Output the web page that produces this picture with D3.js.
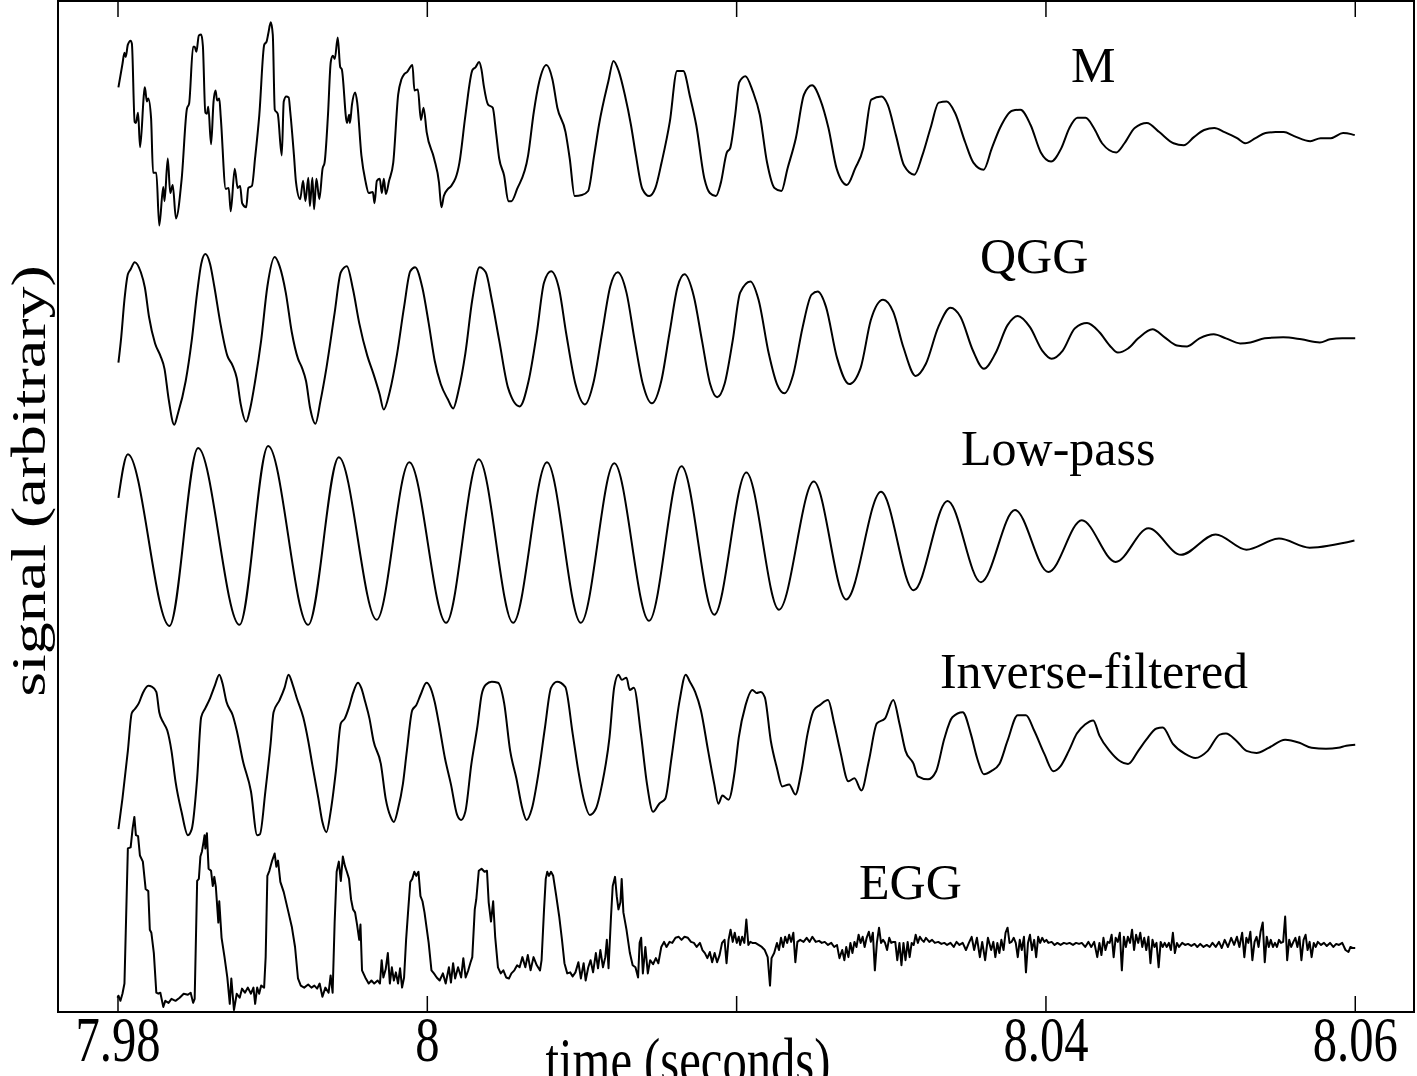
<!DOCTYPE html>
<html>
<head>
<meta charset="utf-8">
<script src="https://cdn.jsdelivr.net/npm/d3@7"></script>
<style>
	html, body { margin: 0; padding: 0; background: #fff; }
	svg { display: block; }
	text { font-family: "Liberation Serif", "Times New Roman", serif; fill: #000; }
</style>
</head>
<body>
<svg id="chart" width="1417" height="1076"></svg>
<script>
// time is in ms after 7.98 s, signal is arbitrary units around each trace's rest level
var mSignal = [[0.06,0.47],[0.32,0.70],[0.45,0.81],[0.53,0.77],[0.67,0.89],[0.85,0.93],[0.93,0.90],[1.11,0.13],[1.19,0.12],[1.33,0.22],[1.46,-0.12],[1.72,0.42],[1.77,0.47],[1.90,0.33],[1.99,0.36],[2.17,0.17],[2.30,-0.37],[2.51,-0.37],[2.70,-0.89],[2.96,-0.51],[3.04,-0.65],[3.25,-0.23],[3.41,-0.57],[3.57,-0.49],[3.78,-0.82],[4.15,-0.43],[4.49,0.26],[4.63,0.31],[4.89,0.87],[4.99,0.87],[5.10,0.82],[5.26,0.98],[5.41,0.99],[5.52,0.88],[5.68,0.22],[5.78,0.21],[5.87,0.28],[6.05,-0.09],[6.21,0.33],[6.34,0.44],[6.44,0.34],[6.58,0.36],[6.68,0.17],[7.00,-0.53],[7.19,-0.52],[7.32,-0.75],[7.58,-0.33],[7.77,-0.52],[7.93,-0.50],[8.06,-0.67],[8.32,-0.71],[8.46,-0.52],[8.69,-0.50],[8.90,-0.22],[9.17,0.20],[9.49,0.89],[9.64,0.92],[9.75,1.00],[9.91,1.11],[10.04,0.99],[10.17,0.25],[10.36,0.21],[10.62,-0.20],[10.75,0.33],[10.91,0.38],[11.07,0.37],[11.17,0.23],[11.41,-0.20],[11.54,-0.46],[11.81,-0.63],[12.00,-0.45],[12.15,-0.65],[12.34,-0.42],[12.44,-0.70],[12.60,-0.42],[12.71,-0.73],[12.86,-0.43],[13.05,-0.63],[13.26,-0.33],[13.39,-0.27],[13.61,0.20],[13.79,0.72],[13.92,0.78],[14.05,0.75],[14.24,0.96],[14.40,0.67],[14.50,0.65],[14.84,0.12],[14.98,0.20],[15.03,0.12],[15.16,0.30],[15.37,0.42],[15.50,0.32],[15.77,-0.20],[16.03,-0.45],[16.25,-0.57],[16.51,-0.56],[16.62,-0.67],[16.77,-0.45],[16.96,-0.43],[17.09,-0.57],[17.22,-0.43],[17.35,-0.58],[17.56,-0.45],[17.83,-0.27],[18.15,0.40],[18.36,0.55],[18.54,0.60],[18.72,0.62],[19.07,0.69],[19.20,0.44],[19.42,0.45],[19.62,0.15],[19.79,0.27],[19.99,0.03],[20.47,-0.23],[20.79,-0.47],[20.94,-0.71],[21.10,-0.60],[21.37,-0.53],[21.58,-0.50],[22.11,-0.27],[22.50,0.20],[22.95,0.64],[23.16,0.67],[23.38,0.72],[23.53,0.65],[23.69,0.48],[23.96,0.30],[24.26,0.27],[24.48,0.02],[24.68,-0.23],[25.00,-0.40],[25.27,-0.65],[25.47,-0.65],[25.84,-0.53],[26.55,-0.20],[26.92,0.23],[27.26,0.52],[27.73,0.69],[28.12,0.55],[28.44,0.27],[28.97,0.03],[29.24,-0.23],[29.56,-0.60],[30.03,-0.59],[30.43,-0.55],[30.82,-0.20],[31.13,0.10],[31.74,0.53],[32.07,0.73],[32.41,0.63],[32.80,0.40],[33.20,0.10],[33.52,-0.20],[33.94,-0.53],[34.38,-0.60],[34.78,-0.52],[35.18,-0.27],[35.71,0.13],[36.18,0.63],[36.58,0.63],[37.03,0.37],[37.42,0.10],[37.95,-0.43],[38.30,-0.57],[38.69,-0.60],[39.01,-0.47],[39.40,-0.17],[39.61,-0.13],[39.94,0.20],[40.20,0.52],[40.60,0.58],[41.08,0.43],[41.53,0.20],[42.00,-0.27],[42.48,-0.52],[42.93,-0.55],[43.32,-0.33],[43.86,-0.03],[44.39,0.40],[44.91,0.49],[45.44,0.35],[45.97,0.07],[46.50,-0.33],[47.16,-0.49],[47.69,-0.33],[48.22,-0.13],[48.74,0.35],[49.40,0.38],[49.80,0.30],[50.33,0.00],[50.86,-0.30],[51.52,-0.39],[52.04,-0.20],[52.57,0.07],[53.10,0.32],[53.62,0.33],[54.15,0.22],[54.81,-0.07],[55.34,-0.27],[56.00,-0.34],[56.53,-0.13],[57.06,0.07],[57.85,0.24],[58.38,0.25],[59.04,0.10],[59.70,-0.17],[60.36,-0.26],[61.02,-0.13],[61.55,0.07],[62.07,0.17],[62.60,0.17],[63.13,0.07],[63.66,-0.08],[64.58,-0.17],[65.11,-0.08],[65.77,0.07],[66.56,0.12],[67.36,0.03],[68.28,-0.08],[68.94,-0.10],[69.60,-0.02],[70.26,0.05],[70.92,0.07],[71.58,0.03],[72.39,-0.03],[72.91,-0.08],[73.58,-0.03],[74.23,0.02],[74.88,0.03],[75.41,0.03],[76.08,-0.01],[77.13,-0.06],[77.79,-0.03],[78.45,-0.03],[79.24,0.02],[79.77,0.01],[80.00,0.00]];

var qggSignal = [[0.06,-0.24],[0.24,0.01],[0.45,0.38],[0.67,0.63],[0.85,0.68],[1.11,0.75],[1.51,0.65],[1.77,0.50],[2.04,0.21],[2.43,-0.05],[2.77,-0.17],[3.04,-0.30],[3.30,-0.59],[3.67,-0.85],[3.89,-0.75],[4.41,-0.42],[4.80,-0.02],[5.15,0.45],[5.41,0.73],[5.68,0.83],[5.99,0.73],[6.26,0.51],[6.65,0.15],[7.10,-0.17],[7.45,-0.27],[7.71,-0.39],[7.97,-0.65],[8.32,-0.82],[8.58,-0.69],[8.90,-0.42],[9.29,-0.02],[9.69,0.51],[10.16,0.80],[10.48,0.71],[10.88,0.45],[11.27,0.06],[11.67,-0.20],[11.93,-0.29],[12.19,-0.42],[12.46,-0.69],[12.80,-0.84],[13.12,-0.62],[13.51,-0.29],[14.04,0.25],[14.44,0.65],[14.83,0.71],[15.23,0.48],[15.63,0.15],[16.15,-0.17],[16.55,-0.35],[16.95,-0.55],[17.21,-0.70],[17.61,-0.52],[18.08,-0.15],[18.53,0.31],[18.93,0.66],[19.24,0.70],[19.71,0.50],[20.12,0.15],[20.51,-0.22],[20.90,-0.45],[21.36,-0.60],[21.70,-0.69],[22.04,-0.52],[22.49,-0.15],[22.94,0.38],[23.41,0.70],[23.81,0.65],[24.20,0.38],[24.68,-0.02],[25.26,-0.49],[26.00,-0.67],[26.58,-0.42],[27.11,0.05],[27.58,0.55],[28.03,0.66],[28.56,0.48],[29.01,0.05],[29.61,-0.45],[30.22,-0.65],[30.80,-0.42],[31.33,0.05],[31.86,0.51],[32.34,0.65],[32.91,0.45],[33.44,-0.02],[33.97,-0.45],[34.55,-0.64],[35.16,-0.42],[35.69,0.05],[36.22,0.51],[36.66,0.63],[37.27,0.41],[37.79,-0.02],[38.32,-0.45],[38.77,-0.58],[39.25,-0.45],[39.78,-0.02],[40.26,0.45],[40.92,0.56],[41.45,0.38],[42.11,-0.15],[42.64,-0.45],[43.12,-0.54],[43.70,-0.35],[44.30,0.11],[44.88,0.43],[45.28,0.46],[45.81,0.31],[46.52,-0.19],[47.31,-0.45],[48.05,-0.29],[48.71,0.18],[49.50,0.38],[50.16,0.26],[50.82,-0.09],[51.61,-0.37],[52.27,-0.25],[53.07,0.11],[53.86,0.30],[54.51,0.21],[55.31,-0.12],[56.02,-0.30],[56.76,-0.15],[57.55,0.13],[58.21,0.22],[59.00,0.11],[59.79,-0.12],[60.40,-0.20],[61.12,-0.12],[61.91,0.10],[62.69,0.15],[63.49,0.06],[64.15,-0.07],[64.68,-0.14],[65.34,-0.10],[66.00,0.00],[66.92,0.09],[67.71,0.01],[68.50,-0.07],[69.16,-0.08],[69.96,0.00],[70.88,0.04],[71.67,0.00],[72.59,-0.05],[73.25,-0.04],[74.18,0.00],[75.37,0.01],[76.55,-0.01],[77.74,-0.04],[78.40,-0.01],[79.19,0.00],[80.03,0.00]];

var lowpassSignal = [[0.06,0.43],[0.67,0.86],[3.36,-0.83],[5.21,0.92],[7.89,-0.82],[9.74,0.94],[12.33,-0.82],[14.31,0.83],[16.76,-0.77],[18.87,0.78],[21.25,-0.80],[23.36,0.81],[25.58,-0.80],[27.77,0.78],[29.96,-0.80],[32.12,0.77],[34.37,-0.78],[36.47,0.74],[38.59,-0.72],[40.66,0.68],[42.77,-0.67],[45.02,0.59],[47.12,-0.57],[49.37,0.49],[51.48,-0.48],[53.67,0.40],[55.83,-0.40],[58.03,0.31],[60.19,-0.30],[62.35,0.21],[64.54,-0.20],[66.66,0.13],[68.77,-0.13],[71.01,0.07],[72.99,-0.08],[75.10,0.03],[77.08,-0.06],[79.98,0.01]];

var inverseSignal = [[0.06,-0.83],[0.32,-0.53],[0.67,-0.06],[0.92,0.31],[1.11,0.35],[1.38,0.41],[1.64,0.51],[1.99,0.58],[2.24,0.57],[2.51,0.52],[2.70,0.32],[2.96,0.22],[3.22,0.14],[3.49,-0.06],[3.75,-0.36],[4.14,-0.66],[4.55,-0.89],[4.80,-0.83],[5.15,-0.33],[5.41,0.27],[5.68,0.36],[5.99,0.46],[6.31,0.59],[6.58,0.69],[6.78,0.61],[7.05,0.42],[7.45,0.29],[7.71,0.14],[8.11,-0.16],[8.63,-0.46],[9.03,-0.89],[9.21,-0.88],[9.56,-0.46],[9.90,0.01],[10.09,0.32],[10.48,0.44],[10.80,0.56],[11.06,0.69],[11.33,0.59],[11.59,0.46],[12.01,0.27],[12.33,0.04],[12.59,-0.19],[12.99,-0.53],[13.25,-0.76],[13.51,-0.86],[13.78,-0.66],[14.12,-0.26],[14.44,0.21],[14.70,0.26],[14.97,0.37],[15.23,0.51],[15.55,0.61],[15.76,0.56],[16.02,0.42],[16.29,0.26],[16.55,0.04],[17.03,-0.19],[17.34,-0.53],[17.66,-0.71],[17.87,-0.76],[18.14,-0.63],[18.45,-0.39],[18.71,-0.06],[19.06,0.34],[19.32,0.39],[19.59,0.49],[19.98,0.61],[20.24,0.56],[20.51,0.42],[20.78,0.21],[21.17,-0.13],[21.56,-0.39],[21.96,-0.69],[22.22,-0.74],[22.49,-0.66],[22.88,-0.19],[23.28,0.19],[23.54,0.49],[23.81,0.59],[24.20,0.62],[24.60,0.61],[25.00,0.41],[25.39,-0.06],[25.79,-0.33],[26.18,-0.63],[26.45,-0.74],[26.79,-0.63],[27.24,-0.26],[27.64,0.17],[28.03,0.56],[28.42,0.62],[28.95,0.57],[29.43,0.11],[29.80,-0.26],[30.14,-0.53],[30.54,-0.69],[30.93,-0.63],[31.33,-0.39],[31.81,0.07],[32.12,0.57],[32.39,0.69],[32.60,0.64],[32.91,0.66],[33.12,0.54],[33.39,0.56],[33.84,0.11],[34.24,-0.39],[34.63,-0.66],[35.03,-0.58],[35.42,-0.53],[35.82,-0.13],[36.35,0.44],[36.74,0.69],[37.01,0.62],[37.35,0.52],[37.72,0.34],[38.19,-0.06],[38.59,-0.39],[38.85,-0.58],[39.11,-0.50],[39.51,-0.54],[39.91,-0.26],[40.17,0.07],[40.61,0.39],[41.05,0.54],[41.32,0.51],[41.58,0.52],[41.85,0.47],[42.24,0.04],[42.64,-0.23],[42.98,-0.41],[43.43,-0.39],[43.83,-0.49],[44.22,-0.26],[44.62,0.11],[45.02,0.34],[45.41,0.39],[45.94,0.44],[46.34,0.21],[46.73,-0.06],[47.26,-0.36],[47.65,-0.33],[48.10,-0.45],[48.58,-0.16],[49.10,0.21],[49.63,0.26],[50.16,0.44],[50.56,0.21],[50.95,-0.06],[51.48,-0.19],[51.75,-0.31],[52.41,-0.34],[52.93,-0.26],[53.46,0.06],[53.98,0.27],[54.65,0.32],[55.17,0.11],[55.58,-0.13],[56.02,-0.29],[56.49,-0.26],[57.02,-0.19],[57.55,0.04],[58.21,0.29],[58.74,0.29],[59.27,0.14],[59.93,-0.09],[60.51,-0.26],[60.98,-0.21],[61.51,-0.06],[62.03,0.11],[62.56,0.20],[63.09,0.24],[63.49,0.09],[64.15,-0.06],[64.81,-0.16],[65.34,-0.19],[66.00,-0.06],[66.52,0.05],[67.18,0.16],[67.58,0.17],[68.24,0.01],[69.03,-0.09],[69.69,-0.13],[70.49,-0.06],[71.27,0.10],[71.67,0.11],[72.34,0.04],[73.00,-0.06],[73.65,-0.08],[74.43,-0.03],[75.50,0.05],[76.42,0.02],[77.21,-0.03],[78.14,-0.04],[78.93,-0.03],[79.45,-0.01],[80.03,0.00]];

var eggSignal = [[0.00,-0.49],[0.06,-0.47],[0.19,-0.52],[0.32,-0.45],[0.45,-0.35],[0.67,0.98],[0.85,0.99],[0.98,1.18],[1.09,1.29],[1.19,1.11],[1.33,1.10],[1.45,0.91],[1.64,0.85],[1.82,0.58],[1.99,0.56],[2.09,0.18],[2.19,0.15],[2.35,-0.05],[2.51,-0.44],[2.64,-0.45],[2.77,-0.44],[2.96,-0.58],[3.09,-0.52],[3.30,-0.54],[3.49,-0.50],[3.75,-0.52],[4.02,-0.49],[4.28,-0.45],[4.55,-0.46],[4.73,-0.44],[4.89,-0.54],[4.99,-0.50],[5.15,0.66],[5.26,0.68],[5.36,0.90],[5.46,0.95],[5.57,1.05],[5.63,1.11],[5.68,0.98],[5.78,1.13],[5.89,0.78],[6.05,0.76],[6.16,0.61],[6.26,0.70],[6.36,0.60],[6.52,0.25],[6.58,0.46],[6.73,0.10],[6.92,-0.09],[7.10,-0.29],[7.26,-0.55],[7.36,-0.30],[7.53,-0.61],[7.71,-0.45],[7.90,-0.49],[8.05,-0.40],[8.24,-0.44],[8.43,-0.39],[8.63,-0.45],[8.79,-0.39],[8.90,-0.55],[9.03,-0.39],[9.16,-0.45],[9.29,-0.37],[9.48,-0.39],[9.58,-0.09],[9.69,0.71],[9.82,0.76],[10.00,0.86],[10.16,0.93],[10.27,0.80],[10.38,0.86],[10.53,0.65],[10.75,0.55],[11.01,0.38],[11.27,0.21],[11.48,0.01],[11.67,-0.30],[11.85,-0.37],[12.07,-0.39],[12.33,-0.36],[12.54,-0.39],[12.73,-0.37],[12.91,-0.40],[13.07,-0.35],[13.25,-0.48],[13.44,-0.39],[13.65,-0.44],[13.78,-0.27],[13.91,-0.44],[14.04,0.25],[14.17,0.75],[14.31,0.85],[14.44,0.66],[14.57,0.90],[14.70,0.81],[14.83,0.75],[14.97,0.68],[15.10,0.48],[15.23,0.38],[15.36,0.35],[15.49,0.23],[15.63,0.08],[15.71,0.23],[15.81,-0.22],[16.02,-0.29],[16.24,-0.35],[16.42,-0.32],[16.60,-0.35],[16.82,-0.32],[16.97,-0.35],[17.08,-0.12],[17.19,-0.29],[17.34,-0.21],[17.48,-0.05],[17.61,-0.35],[17.74,-0.19],[17.87,-0.32],[18.00,-0.24],[18.14,-0.35],[18.27,-0.20],[18.40,-0.39],[18.53,-0.29],[18.66,0.08],[18.80,0.38],[18.93,0.65],[19.06,0.68],[19.19,0.75],[19.32,0.71],[19.46,0.75],[19.59,0.51],[19.72,0.46],[19.85,0.35],[20.12,0.05],[20.30,-0.22],[20.46,-0.25],[20.64,-0.29],[20.83,-0.32],[21.04,-0.25],[21.22,-0.35],[21.43,-0.19],[21.56,-0.34],[21.70,-0.15],[21.83,-0.30],[22.02,-0.19],[22.22,-0.29],[22.36,-0.10],[22.51,-0.29],[22.68,-0.22],[22.83,-0.14],[22.94,-0.09],[23.10,0.38],[23.20,0.48],[23.36,0.76],[23.54,0.78],[23.73,0.75],[23.89,0.76],[24.00,0.45],[24.15,0.26],[24.29,0.46],[24.42,0.11],[24.60,-0.19],[24.78,-0.25],[24.95,-0.22],[25.13,-0.29],[25.31,-0.30],[25.47,-0.25],[25.66,-0.22],[25.84,-0.17],[26.00,-0.19],[26.18,-0.09],[26.37,-0.19],[26.53,-0.07],[26.71,-0.22],[26.90,-0.09],[27.11,-0.17],[27.32,-0.22],[27.42,-0.12],[27.58,0.38],[27.69,0.68],[27.79,0.75],[27.90,0.71],[28.03,0.75],[28.17,0.71],[28.37,0.51],[28.56,0.31],[28.74,0.08],[28.90,-0.15],[29.08,-0.25],[29.27,-0.24],[29.43,-0.28],[29.61,-0.24],[29.80,-0.14],[29.96,-0.30],[30.14,-0.15],[30.27,-0.32],[30.44,-0.19],[30.59,-0.12],[30.75,-0.24],[30.93,-0.05],[31.07,-0.20],[31.22,-0.02],[31.39,-0.19],[31.54,-0.09],[31.64,0.08],[31.75,-0.20],[31.91,0.31],[32.02,0.61],[32.17,0.70],[32.28,0.51],[32.39,0.38],[32.52,0.45],[32.60,0.68],[32.71,0.35],[32.91,0.18],[33.13,-0.05],[33.31,-0.17],[33.49,-0.19],[33.66,-0.29],[33.76,0.05],[33.86,0.10],[33.97,-0.25],[34.13,0.01],[34.29,-0.25],[34.44,-0.12],[34.63,-0.16],[34.81,-0.10],[34.97,-0.15],[35.16,0.01],[35.34,0.06],[35.50,0.01],[35.69,0.06],[35.87,0.05],[36.08,0.10],[36.29,0.11],[36.47,0.08],[36.66,0.11],[36.88,0.10],[37.08,0.06],[37.27,0.05],[37.45,0.01],[37.66,0.05],[37.82,-0.02],[37.98,-0.05],[38.14,-0.10],[38.30,-0.04],[38.45,-0.14],[38.61,-0.05],[38.77,-0.14],[38.93,-0.07],[39.09,0.05],[39.25,0.08],[39.38,-0.15],[39.51,0.08],[39.64,0.18],[39.78,0.06],[39.91,0.15],[40.04,0.05],[40.17,0.11],[40.26,0.03],[40.39,0.11],[40.53,0.05],[40.66,0.28],[40.79,0.03],[40.92,0.06],[41.05,0.05],[41.24,0.05],[41.45,0.03],[41.66,0.01],[41.85,-0.02],[42.04,-0.09],[42.19,-0.37],[42.29,-0.10],[42.46,-0.05],[42.64,0.05],[42.77,-0.02],[42.90,0.10],[43.04,0.01],[43.17,0.11],[43.30,0.05],[43.43,0.13],[43.56,0.06],[43.70,0.15],[43.83,-0.14],[43.96,0.06],[44.14,0.08],[44.36,0.06],[44.56,0.10],[44.75,0.06],[44.93,0.11],[45.15,0.06],[45.36,0.07],[45.54,0.05],[45.73,0.06],[45.94,0.03],[46.15,0.05],[46.34,0.01],[46.52,0.03],[46.68,-0.10],[46.86,-0.02],[47.00,-0.12],[47.12,0.01],[47.26,-0.09],[47.39,0.05],[47.52,-0.05],[47.65,0.06],[47.78,0.01],[47.92,0.13],[48.05,0.05],[48.18,0.11],[48.31,0.01],[48.44,0.10],[48.58,0.16],[48.71,0.06],[48.84,0.15],[48.97,-0.22],[49.10,0.05],[49.24,0.20],[49.37,0.05],[49.50,0.08],[49.63,0.05],[49.76,-0.02],[49.90,0.10],[50.03,0.05],[50.16,0.06],[50.29,0.06],[50.42,-0.12],[50.56,0.05],[50.69,-0.17],[50.82,0.05],[50.95,-0.12],[51.09,0.06],[51.22,-0.09],[51.35,0.05],[51.48,0.03],[51.61,0.13],[51.75,0.05],[51.88,0.11],[52.01,0.08],[52.14,0.06],[52.27,0.10],[52.49,0.06],[52.67,0.08],[52.85,0.05],[53.07,0.06],[53.27,0.04],[53.46,0.05],[53.64,0.03],[53.86,0.05],[54.07,0.01],[54.25,0.06],[54.44,0.03],[54.65,0.05],[54.86,-0.02],[55.05,0.05],[55.23,0.11],[55.39,-0.02],[55.57,0.10],[55.76,-0.09],[55.91,0.06],[56.10,-0.12],[56.28,0.10],[56.49,-0.02],[56.63,0.06],[56.76,-0.09],[56.89,0.05],[57.02,-0.05],[57.15,0.08],[57.29,-0.02],[57.42,0.15],[57.55,0.20],[57.68,0.05],[57.81,0.06],[57.95,0.10],[58.08,0.05],[58.21,-0.09],[58.34,0.08],[58.47,-0.02],[58.61,0.11],[58.74,-0.24],[58.87,0.05],[59.00,0.13],[59.13,-0.02],[59.27,0.08],[59.40,-0.09],[59.53,0.11],[59.66,0.05],[59.79,0.10],[59.93,0.06],[60.06,0.08],[60.19,0.05],[60.40,0.06],[60.59,0.03],[60.77,0.05],[60.98,0.03],[61.19,0.05],[61.38,0.04],[61.56,0.05],[61.78,0.03],[61.98,0.05],[62.17,0.04],[62.35,0.05],[62.57,0.01],[62.78,0.06],[62.96,0.01],[63.15,0.06],[63.35,-0.09],[63.49,0.05],[63.62,-0.07],[63.75,0.10],[63.88,-0.02],[64.02,0.06],[64.15,0.05],[64.28,0.13],[64.41,-0.09],[64.54,0.10],[64.68,0.06],[64.81,0.15],[64.94,-0.22],[65.07,0.11],[65.20,0.01],[65.33,0.11],[65.47,0.05],[65.60,0.18],[65.73,-0.02],[65.86,0.13],[66.00,0.05],[66.13,0.15],[66.26,0.01],[66.39,0.10],[66.52,-0.02],[66.66,0.11],[66.79,-0.15],[66.92,0.08],[67.05,0.01],[67.18,0.05],[67.32,-0.19],[67.45,0.06],[67.58,0.01],[67.71,0.05],[67.84,0.01],[67.98,0.05],[68.11,-0.02],[68.24,0.15],[68.37,-0.05],[68.50,0.05],[68.64,0.01],[68.84,0.05],[69.03,0.03],[69.22,0.04],[69.43,0.02],[69.64,0.04],[69.82,0.01],[70.01,0.04],[70.22,0.01],[70.43,0.03],[70.62,0.01],[70.80,0.05],[71.01,0.01],[71.22,0.06],[71.40,0.00],[71.59,0.08],[71.80,0.01],[72.01,0.10],[72.20,0.03],[72.38,0.11],[72.54,0.01],[72.72,0.15],[72.86,-0.09],[72.99,0.10],[73.12,0.05],[73.25,0.16],[73.38,-0.12],[73.52,0.06],[73.65,0.11],[73.78,0.01],[73.91,0.16],[74.05,0.25],[74.18,-0.14],[74.31,0.11],[74.44,0.01],[74.57,0.08],[74.71,0.01],[74.84,0.05],[74.97,0.01],[75.10,0.08],[75.23,0.05],[75.37,0.06],[75.50,0.31],[75.63,-0.12],[75.76,0.08],[75.89,0.01],[76.03,0.06],[76.16,0.10],[76.29,0.01],[76.42,0.11],[76.55,-0.12],[76.69,0.08],[76.82,0.13],[76.95,-0.02],[77.08,0.06],[77.21,-0.09],[77.35,0.05],[77.48,0.01],[77.61,0.06],[77.82,0.03],[78.01,0.05],[78.19,0.02],[78.40,0.05],[78.61,0.01],[78.80,0.04],[78.98,0.03],[79.19,0.05],[79.40,-0.02],[79.59,-0.04],[79.72,0.01],[79.85,0.00],[80.03,0.00]];

var seriesNames = ["M", "QGG", "Low-pass", "Inverse-filtered", "EGG"];
var seriesData = [mSignal, qggSignal, lowpassSignal, inverseSignal, eggSignal];
var seriesRest = [8, 6, 4, 2, 0];

var tickValues = [7.98, 8.00, 8.02, 8.04, 8.06];
var tickLabels = ["7.98", "8", "", "8.04", "8.06"];

// where each name sits: [time (s), height above its trace's rest level]
var nameAnchors = [[8.04166, 0.52], [8.03577, 0.64], [8.03454, 0.75], [8.03318, 0.56], [8.02795, 0.48]];

var plotLeft = 58, plotRight = 1414, plotTop = 1, plotBottom = 1012;

var svg = d3.select("#chart");

var x = d3.scaleLinear().domain([7.976153, 8.06383]).range([plotLeft, plotRight]);
var y = d3.scaleLinear().domain([-0.63, 9.32]).range([plotBottom, plotTop]);

function drawTrace(points, rest, curve) {
	var line = d3.line()
		.x(function (d) { return x(7.98 + d[0] / 1000); })
		.y(function (d) { return y(rest + d[1]); })
		.curve(curve);
	svg.append("path")
		.datum(points)
		.attr("fill", "none")
		.attr("stroke", "#000")
		.attr("stroke-width", 2)
		.attr("stroke-linejoin", "round")
		.attr("d", line);
}

for (var i = 0; i < seriesData.length; i++) {
	var curve = (seriesNames[i] == "EGG") ? d3.curveLinear : d3.curveMonotoneX;
	drawTrace(seriesData[i], seriesRest[i], curve);
	svg.append("text")
		.attr("x", x(nameAnchors[i][0]))
		.attr("y", y(seriesRest[i] + nameAnchors[i][1]))
		.attr("font-size", 50)
		.text(seriesNames[i]);
}

var bottomAxis = d3.axisBottom(x)
	.tickValues(tickValues)
	.tickFormat(function (d, i) { return tickLabels[i]; })
	.tickSizeInner(-16)
	.tickSizeOuter(0);
var topAxis = d3.axisTop(x)
	.tickValues(tickValues)
	.tickFormat("")
	.tickSizeInner(-16)
	.tickSizeOuter(0);

var gb = svg.append("g").attr("transform", "translate(0," + plotBottom + ")").call(bottomAxis);
var gt = svg.append("g").attr("transform", "translate(0," + plotTop + ")").call(topAxis);
[gb, gt].forEach(function (g) {
	g.select(".domain").remove();
	g.selectAll(".tick line").attr("stroke", "#000").attr("stroke-width", 1.5);
});
gb.selectAll(".tick text")
	.attr("font-family", "Liberation Serif")
	.attr("font-size", 64)
	.attr("fill", "#000")
	.attr("y", 49)
	.attr("dy", 0)
	.attr("transform", "scale(0.76,1)");

svg.append("rect")
	.attr("x", plotLeft)
	.attr("y", plotTop)
	.attr("width", plotRight - plotLeft)
	.attr("height", plotBottom - plotTop)
	.attr("fill", "none")
	.attr("stroke", "#000")
	.attr("stroke-width", 2);

svg.append("text")
	.attr("transform", "translate(688,1082) scale(0.76,1)")
	.attr("text-anchor", "middle")
	.attr("font-size", 64)
	.text("time (seconds)");

svg.append("text")
	.attr("transform", "translate(45,481) rotate(-90) scale(1,0.76)")
	.attr("text-anchor", "middle")
	.attr("font-size", 64)
	.text("signal (arbitrary)");
</script>
</body>
</html>
